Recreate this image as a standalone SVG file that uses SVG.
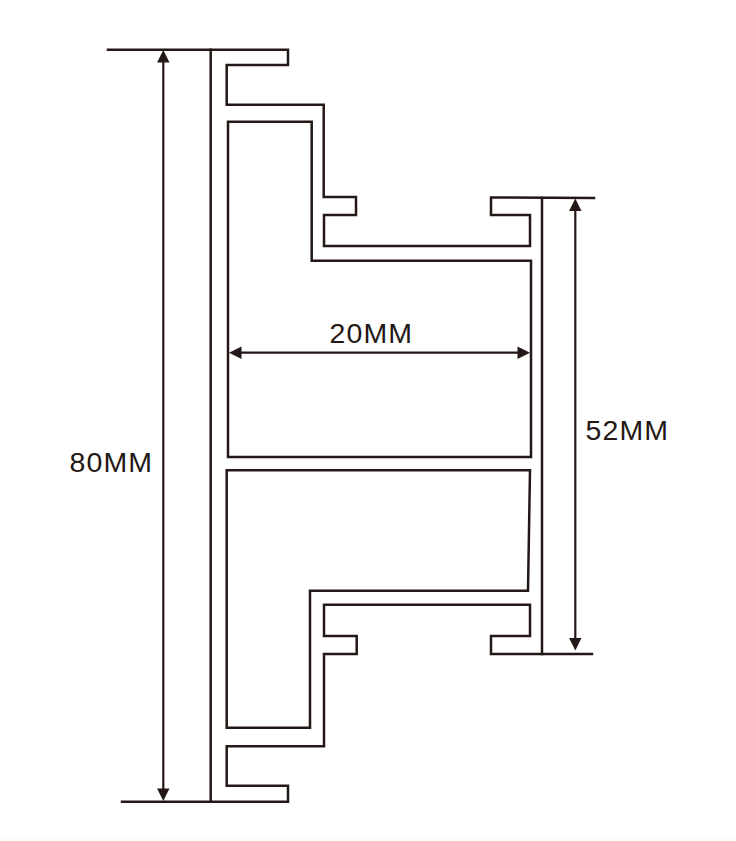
<svg xmlns="http://www.w3.org/2000/svg" width="736" height="841" viewBox="0 0 736 841">
<style>
.p{fill:none;stroke:#231815;stroke-width:2.5;stroke-linejoin:miter;stroke-linecap:square}
.d{fill:none;stroke:#231815;stroke-width:2.2}
.a{fill:#231815}
text{font-family:"Liberation Sans",Arial,sans-serif;font-size:28.5px;fill:#231815;letter-spacing:1.1px}
</style>
<rect width="736" height="841" fill="#fff"/>
<rect y="837" width="736" height="4" fill="#fafafa"/>
<g id="profile">
<path id="outer-top" class="p" d="M108 49.700H288V65H226.700V104.700H323.700V197H356V215H324V246H530V215H491V197.500L594 198"/>
<path id="outer-bottom" class="p" d="M122 801.700H288V785.700H226.700V746.300H324V654H356.700V636H324V604.700H530V636H491V654H592"/>
<path id="web-left" class="p" d="M210.700 49.700V801.700"/>
<path id="web-right" class="p" d="M542 198V654"/>
<path id="cavity-top" class="p" d="M228 121.700H311.700V260.700H531V457H228Z"/>
<path id="cavity-bottom" class="p" d="M226.700 470.300H530L528 590.700H310V727.700H226.700Z"/>
</g>
<g id="connectors">
<path class="d" d="M163.300 56V796"/>
<path class="a" d="M163.300 50L169.500 62.500H157.100Z"/>
<path class="a" d="M163.300 801L157.100 788.500H169.500Z"/>
<path class="d" d="M575.300 205V644"/>
<path class="a" d="M575.300 198.500L581.500 211H569.100Z"/>
<path class="a" d="M575.300 650.500L569.100 638H581.500Z"/>
<path class="d" d="M235 352.700H524"/>
<path class="a" d="M229 352.700L241.500 346.500V358.900Z"/>
<path class="a" d="M530 352.700L517.500 346.500V358.900Z"/>
</g>
<g id="label-80"><text x="69.500" y="472">80MM</text></g>
<g id="label-20"><text x="329.500" y="343">20MM</text></g>
<g id="label-52"><text x="585.500" y="440">52MM</text></g>
</svg>
